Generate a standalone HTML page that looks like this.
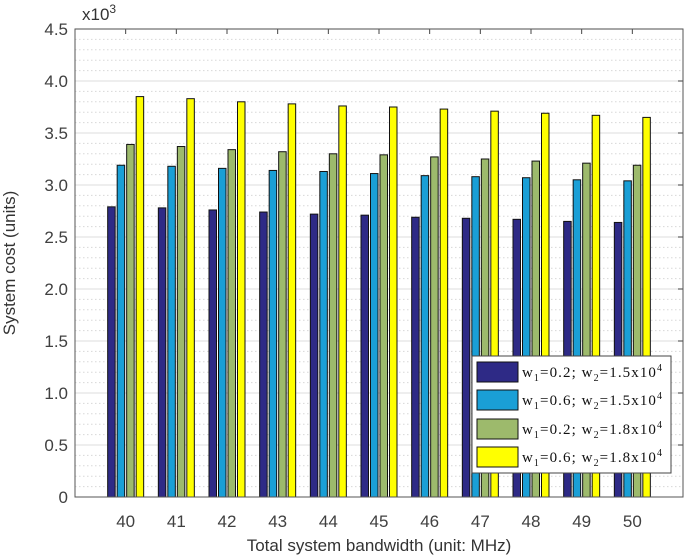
<!DOCTYPE html>
<html><head><meta charset="utf-8"><style>
body{margin:0;background:#fff;}
svg{display:block;font-family:"Liberation Sans",sans-serif;}
</style></head><body>
<svg id="chart" width="684" height="555"></svg>
<script>
const categories=[40,41,42,43,44,45,46,47,48,49,50];
const s1=[2.79,2.78,2.76,2.74,2.72,2.71,2.69,2.68,2.67,2.65,2.64];
const s2=[3.19,3.18,3.16,3.14,3.13,3.11,3.09,3.08,3.07,3.05,3.04];
const s3=[3.39,3.37,3.34,3.32,3.30,3.29,3.27,3.25,3.23,3.21,3.19];
const s4=[3.85,3.83,3.80,3.78,3.76,3.75,3.73,3.71,3.69,3.67,3.65];
const yTicks=["0","0.5","1.0","1.5","2.0","2.5","3.0","3.5","4.0","4.5"];
const NS="http://www.w3.org/2000/svg";
const svg=document.getElementById('chart');
const L=75,R=683,T=29,B=497;
const x=v=>L+(v-39)/12*(R-L);
const y=v=>B-v/4.5*(B-T);
function mk(tag,attrs,parent){const e=document.createElementNS(NS,tag);for(const k in attrs)e.setAttribute(k,attrs[k]);(parent||svg).appendChild(e);return e;}
for(let i=1;i<45;i++){if(i%5===0)continue;const g=mk('line',{x1:L,x2:R,y1:y(i/10),y2:y(i/10),stroke:'#d8d8d8','stroke-dasharray':'1.5,2.5','stroke-width':1});

}
yTicks.forEach((t,i)=>{const v=parseFloat(t);const yy=y(v);
if(v>0){const g=mk('line',{x1:L,x2:R,y1:yy,y2:yy,stroke:'#e3e3e3','stroke-width':1.3});

}
const tk=mk('line',{x1:R-5,x2:R,y1:yy,y2:yy,stroke:'#444'});


const tx=mk('text',{x:L-7,y:yy+6,'text-anchor':'end','font-size':17,fill:'#404040'});tx.textContent=t;

});
const series=[s1,s2,s3,s4];const colors=['#2e2a86','#1a9fd6','#9dba6c','#ffff00'];
const offs=[-14.25,-4.75,4.75,14.25];const bw=7.5;
categories.forEach((c,i)=>{const cx=x(c);
series.forEach((s,k)=>{const r=mk('rect',{x:cx+offs[k]-bw/2,y:y(s[i]),width:bw,height:B-y(s[i]),fill:colors[k],stroke:'#111','stroke-width':1});

});
const tk=mk('line',{x1:cx,x2:cx,y1:T,y2:T+5,stroke:'#444'});


const tx=mk('text',{x:cx,y:527,'text-anchor':'middle','font-size':17,fill:'#404040'});tx.textContent=c;

});
const fr=mk('rect',{x:L,y:T,width:R-L,height:B-T,fill:'none',stroke:'#555','stroke-width':1});


</script>
<svg style="position:absolute;left:0;top:0" width="684" height="555">
<text x="82" y="20" font-size="17" fill="#333">x10<tspan dy="-7" font-size="12">3</tspan></text>
<text x="379" y="551" text-anchor="middle" font-size="17" fill="#333">Total system bandwidth (unit: MHz)</text>
<text transform="translate(15,263) rotate(-90)" text-anchor="middle" font-size="17" fill="#333">System cost (units)</text>
<g font-family="Liberation Serif,serif" font-size="15" fill="#111">
<rect x="472" y="356" width="199" height="117" fill="#fff" stroke="#444"/>
<rect x="477" y="362" width="41" height="20" fill="#2e2a86" stroke="#111"/>
<rect x="477" y="390" width="41" height="20" fill="#1a9fd6" stroke="#111"/>
<rect x="477" y="419" width="41" height="20" fill="#9dba6c" stroke="#111"/>
<rect x="477" y="447" width="41" height="20" fill="#ffff00" stroke="#111"/>
<text x="522" y="377" textLength="140" lengthAdjust="spacing">w<tspan dy="4" font-size="10">1</tspan><tspan dy="-4">=0.2; w</tspan><tspan dy="4" font-size="10">2</tspan><tspan dy="-4">=1.5x10</tspan><tspan dy="-6" font-size="10">4</tspan></text>
<text x="522" y="405" textLength="140" lengthAdjust="spacing">w<tspan dy="4" font-size="10">1</tspan><tspan dy="-4">=0.6; w</tspan><tspan dy="4" font-size="10">2</tspan><tspan dy="-4">=1.5x10</tspan><tspan dy="-6" font-size="10">4</tspan></text>
<text x="522" y="434" textLength="140" lengthAdjust="spacing">w<tspan dy="4" font-size="10">1</tspan><tspan dy="-4">=0.2; w</tspan><tspan dy="4" font-size="10">2</tspan><tspan dy="-4">=1.8x10</tspan><tspan dy="-6" font-size="10">4</tspan></text>
<text x="522" y="462" textLength="140" lengthAdjust="spacing">w<tspan dy="4" font-size="10">1</tspan><tspan dy="-4">=0.6; w</tspan><tspan dy="4" font-size="10">2</tspan><tspan dy="-4">=1.8x10</tspan><tspan dy="-6" font-size="10">4</tspan></text>
</g>
</svg>
</body></html>
